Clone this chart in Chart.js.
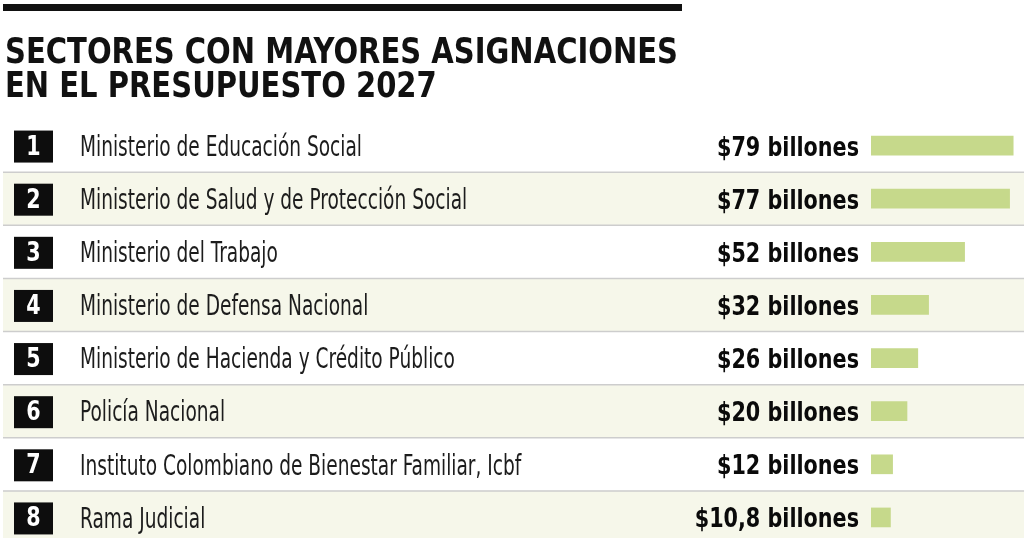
<!DOCTYPE html>
<html>
<head>
<meta charset="utf-8">
<script src="https://cdn.jsdelivr.net/npm/chart.js@4"></script>
<style>
  html, body { margin: 0; padding: 0; background: #ffffff; overflow: hidden; }
  #wrap { position: absolute; left: 0; top: 0; width: 1024px; height: 545px; }
</style>
</head>
<body>
<div id="wrap"><canvas id="c"></canvas></div>
<script>
const titleLines = ['SECTORES CON MAYORES ASIGNACIONES', 'EN EL PRESUPUESTO 2027'];
const ranks = ['1', '2', '3', '4', '5', '6', '7', '8'];
const categories = [
  'Ministerio de Educación Social',
  'Ministerio de Salud y de Protección Social',
  'Ministerio del Trabajo',
  'Ministerio de Defensa Nacional',
  'Ministerio de Hacienda y Crédito Público',
  'Policía Nacional',
  'Instituto Colombiano de Bienestar Familiar, Icbf',
  'Rama Judicial'
];
const values = [79, 77, 52, 32, 26, 20, 12, 10.8];
const valueLabels = [
  '$79 billones', '$77 billones', '$52 billones', '$32 billones',
  '$26 billones', '$20 billones', '$12 billones', '$10,8 billones'
];

const COND = '"Liberation Sans Narrow", "DejaVu Sans Condensed", sans-serif';

function scaledText(ctx, text, x, y, sx, align) {
  ctx.save();
  ctx.translate(x, y);
  ctx.scale(sx, 1);
  ctx.textAlign = align || 'left';
  ctx.fillText(text, 0, 0);
  ctx.restore();
}

const tablePlugin = {
  id: 'tablePlugin',
  beforeDatasetsDraw(chart) {
    const ctx = chart.ctx;
    const ys = chart.scales.y;
    const band = ys.getPixelForValue(1) - ys.getPixelForValue(0);
    ctx.save();
    for (let i = 0; i < categories.length; i++) {
      const cy = ys.getPixelForValue(i);
      if (i % 2 === 1) {
        ctx.fillStyle = '#f6f7ea';
        ctx.fillRect(3, cy - band / 2, 1024, band);
      }
    }
    ctx.strokeStyle = '#cdcdcd';
    ctx.lineWidth = 1.5;
    for (let i = 1; i < categories.length; i++) {
      const ly = (ys.getPixelForValue(i - 1) + ys.getPixelForValue(i)) / 2;
      ctx.beginPath();
      ctx.moveTo(3, ly);
      ctx.lineTo(1024, ly);
      ctx.stroke();
    }
    ctx.restore();
  },
  afterDraw(chart) {
    const ctx = chart.ctx;
    const ys = chart.scales.y;
    ctx.save();
    // top rule
    ctx.fillStyle = '#111111';
    ctx.fillRect(3, 4, 679, 7);
    // title (condensed to the original line width)
    ctx.fillStyle = '#111111';
    ctx.textBaseline = 'alphabetic';
    ctx.font = 'bold 36px ' + COND;
    const tsx = 673 / ctx.measureText(titleLines[0]).width;
    scaledText(ctx, titleLines[0], 5, 63, tsx);
    scaledText(ctx, titleLines[1], 5, 97, tsx);

    ctx.font = '28px ' + COND;
    const lsx = 282 / ctx.measureText(categories[0]).width;
    ctx.font = 'bold 27px ' + COND;
    const vsx = 142 / ctx.measureText(valueLabels[0]).width;

    for (let i = 0; i < categories.length; i++) {
      const cy = ys.getPixelForValue(i) + 2;
      // rank box
      ctx.fillStyle = '#0d0d0d';
      ctx.fillRect(14, cy - 17, 39, 32);
      ctx.fillStyle = '#ffffff';
      ctx.font = 'bold 27px ' + COND;
      ctx.textBaseline = 'middle';
      scaledText(ctx, ranks[i], 33.5, cy, 0.85, 'center');
      // category label
      ctx.fillStyle = '#1c1c1c';
      ctx.font = '28px ' + COND;
      scaledText(ctx, categories[i], 80, cy + 1, lsx, 'left');
      // value label
      ctx.fillStyle = '#0a0a0a';
      ctx.font = 'bold 27px ' + COND;
      scaledText(ctx, valueLabels[i], 859, cy + 1, vsx, 'right');
    }
    ctx.restore();
  }
};

new Chart(document.getElementById('c'), {
  type: 'bar',
  data: {
    labels: categories,
    datasets: [{
      data: values,
      backgroundColor: '#c6d98b',
      borderWidth: 0,
      barThickness: 19
    }]
  },
  options: {
    indexAxis: 'y',
    responsive: true,
    maintainAspectRatio: false,
    animation: false,
    layout: { padding: { left: 871, right: 9, top: 119, bottom: 1 } },
    scales: {
      x: { display: false, min: 0, max: 80 },
      y: { display: false }
    },
    plugins: {
      legend: { display: false },
      tooltip: { enabled: false },
      title: { display: false }
    }
  },
  plugins: [tablePlugin]
});
</script>
</body>
</html>
